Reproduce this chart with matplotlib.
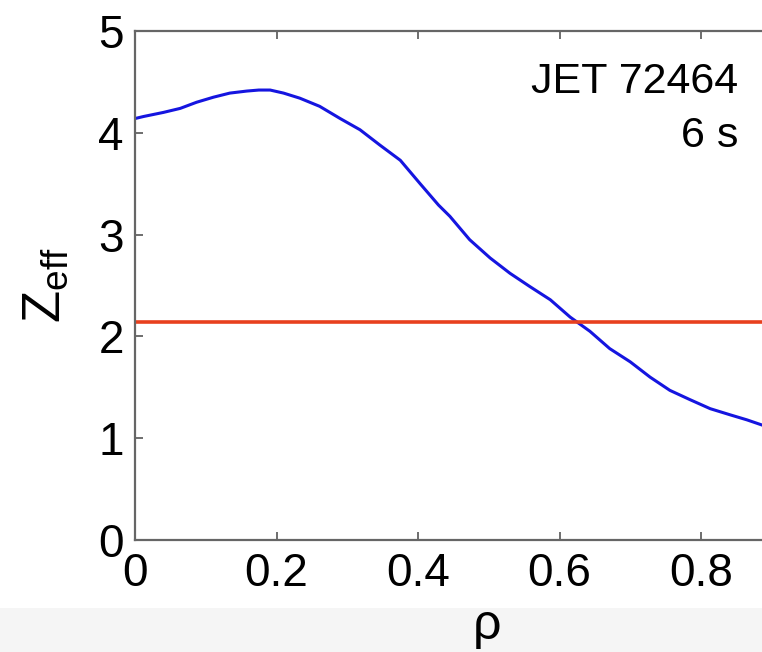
import matplotlib
matplotlib.use("Agg")
import matplotlib.pyplot as plt
from matplotlib.patches import Rectangle

plt.rcParams['font.family'] = ['Liberation Sans', 'DejaVu Sans']
plt.rcParams['mathtext.fontset'] = 'custom'
plt.rcParams['mathtext.rm'] = 'Liberation Sans'
plt.rcParams['mathtext.it'] = 'Liberation Sans'

# Data
rho = [0.0, 0.012, 0.040, 0.064, 0.087, 0.111, 0.134, 0.158, 0.175, 0.191,
       0.210, 0.233, 0.261, 0.290, 0.318, 0.346, 0.375, 0.403, 0.429, 0.445,
       0.473, 0.502, 0.530, 0.558, 0.587, 0.615, 0.643, 0.671, 0.700, 0.728,
       0.756, 0.784, 0.813, 0.841, 0.865, 0.886, 0.90]
zeff = [4.14, 4.16, 4.20, 4.24, 4.30, 4.35, 4.39, 4.41, 4.42, 4.42,
        4.39, 4.34, 4.26, 4.14, 4.03, 3.88, 3.73, 3.50, 3.29, 3.18,
        2.95, 2.77, 2.62, 2.49, 2.36, 2.19, 2.05, 1.88, 1.75, 1.60,
        1.47, 1.38, 1.29, 1.23, 1.18, 1.13, 1.10]
zeff_const = 2.14
x_ticks = [0, 0.2, 0.4, 0.6, 0.8, 1.0]
x_ticklabels = ['0', '0.2', '0.4', '0.6', '0.8', '']
y_ticks = [0, 1, 2, 3, 4, 5]
label_shot = "JET 72464"
label_time = "6 s"

W, H = 762, 652
fig = plt.figure(figsize=(W / 100, H / 100), dpi=100)
fig.patch.set_facecolor('white')

# light gray strip at the bottom
fig.patches.append(Rectangle((0, 0), 1, (H - 608) / H, transform=fig.transFigure,
                             facecolor='#f5f5f5', edgecolor='none', zorder=0))

left, right_px = 135, 135 + 707.5
top, bottom = 31, 540
ax = fig.add_axes([left / W, (H - bottom) / H, (right_px - left) / W, (bottom - top) / H])
ax.set_facecolor('white')

ax.plot(rho, zeff, color='#1515e0', lw=2.2)
ax.axhline(zeff_const, color='#e8401e', lw=2.6)

ax.set_xlim(0, 1)
ax.set_ylim(0, 5)
ax.set_xticks(x_ticks)
ax.set_xticklabels(x_ticklabels)
ax.set_yticks(y_ticks)
ax.tick_params(direction='in', length=6, width=1.2, color='#555555',
               labelsize=33, top=True, right=True)
ax.tick_params(axis='x', pad=9)
ax.tick_params(axis='y', pad=8)
for s in ax.spines.values():
    s.set_color('#666666')
    s.set_linewidth(1.6)

ax.set_ylabel(r'$\mathrm{Z}_{\mathrm{eff}}$', fontsize=38, labelpad=20)

fig.text(487 / W, 3 / H, 'ρ', ha='center', va='bottom', fontsize=36)
fig.text(738 / W, 1 - 93 / H, label_shot, ha='right', va='baseline', fontsize=31)
fig.text(738 / W, 1 - 147 / H, label_time, ha='right', va='baseline', fontsize=31)

fig.savefig('out.png', dpi=100)
